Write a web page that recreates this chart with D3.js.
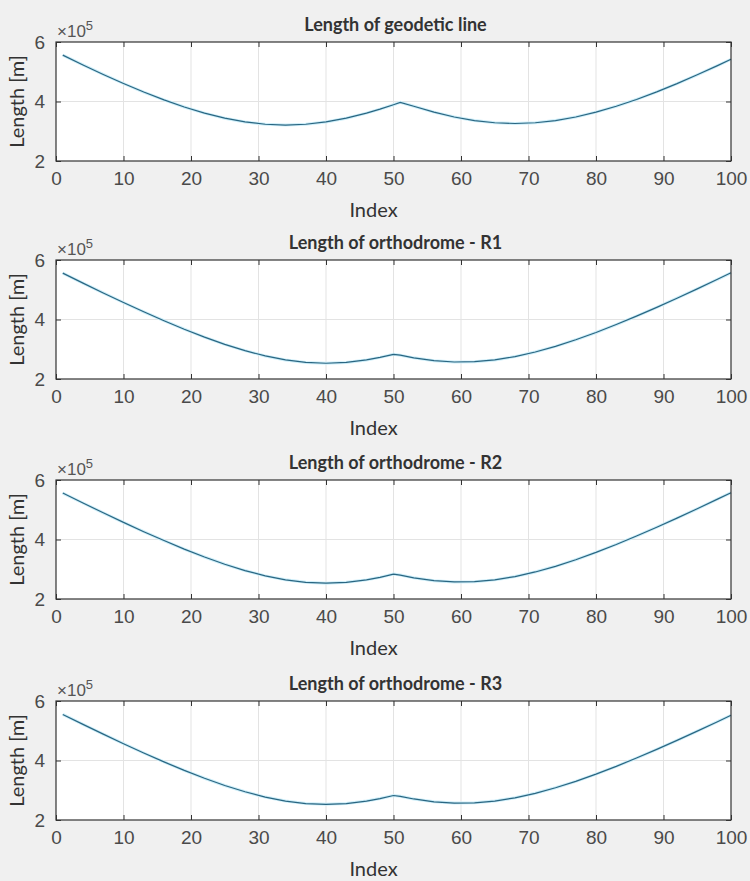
<!DOCTYPE html>
<head>
    <meta charset="utf-8">
    <script src="https://d3js.org/d3.v7.min.js"></script>
</head>
<style>
    body { margin: 0; background: #f0f0f0; }
    .tick text { font-family: "Liberation Sans", Arial, sans-serif; font-size: 19px; fill: #4a4a4a; }
    .lbl { font-family: Lato, "Open Sans", sans-serif; fill: #333; }
</style>
<body>
    <div id="chart"></div>
</body>

<script>
    // sample index (x) and lengths in metres
    const idx = [1,4,7,10,13,16,19,22,25,28,31,34,37,40,43,46,48,50,51,53,56,59,62,65,68,71,74,77,80,83,86,89,92,95,98,100];

    const geodetic = [556000,522900,490900,460500,431800,405400,381600,360900,344000,331400,323600,320900,
        323600,331400,344000,360900,374300,389200,397100,384100,364300,348000,336000,328500,326000,328500,
        336000,348000,364300,384100,406900,432500,460200,489700,520700,542000];

    const orthoR1 = [555900,522300,489300,457200,425900,396000,367400,340900,316600,295300,277500,264200,
        255800,253000,255800,264200,272600,283000,280000,271100,261500,257200,258100,264200,275300,290700,
        309700,331800,356400,383000,411300,440800,471500,502900,535200,557000];

    const orthoR2 = [556200,522600,489800,457700,426300,396400,367800,341200,316900,295600,277800,264400,
        256000,253200,256000,264300,272800,283600,280400,271300,261600,257300,258200,264300,275400,290900,
        309900,332000,356700,383300,411700,441200,471900,503300,535600,557400];

    const orthoR3 = [554800,521400,488600,456500,425200,395300,366800,340300,316000,294800,277000,263700,
        255300,252600,255300,263600,272000,282400,279500,270700,261100,256800,257600,263600,274500,289700,
        308400,330000,354300,380400,408300,437400,467700,498700,530500,552000];

    const titles = ["Length of geodetic line", "Length of orthodrome - R1",
                    "Length of orthodrome - R2", "Length of orthodrome - R3"];
    const series = [geodetic, orthoR1, orthoR2, orthoR3];

    const xTicks = [0,10,20,30,40,50,60,70,80,90,100];
    const yTicks = [200000, 400000, 600000];

    const W = 750, H = 881;
    const left = 56, right = 731;
    const tops = [42, 260, 480, 701];
    const ph = 119;

    const svg = d3.select("#chart")
        .append("svg")
        .attr("width", W)
        .attr("height", H);

    const x = d3.scaleLinear().domain([0, 100]).range([left, right]);

    series.forEach((vals, i) => {
        const top = tops[i], bottom = top + ph;
        const y = d3.scaleLinear().domain([200000, 600000]).range([bottom, top]);
        const g = svg.append("g");

        // plot area
        g.append("rect")
            .attr("x", left).attr("y", top)
            .attr("width", right - left).attr("height", ph)
            .attr("fill", "white");

        // grid
        g.selectAll(".gx").data(xTicks.slice(1, -1)).join("line")
            .attr("x1", d => x(d)).attr("x2", d => x(d))
            .attr("y1", top).attr("y2", bottom)
            .attr("stroke", "#e3e3e3");
        g.selectAll(".gy").data(yTicks.slice(1, -1)).join("line")
            .attr("x1", left).attr("x2", right)
            .attr("y1", d => y(d)).attr("y2", d => y(d))
            .attr("stroke", "#e3e3e3");

        // line
        const line = d3.line().x((d, j) => x(idx[j])).y(d => y(d));
        g.append("path").datum(vals)
            .attr("d", line).attr("fill", "none")
            .attr("stroke", "#cdeef9").attr("stroke-width", 3);
        g.append("path").datum(vals)
            .attr("d", line).attr("fill", "none")
            .attr("stroke", "#2a6682").attr("stroke-width", 1.2);

        // axes (MATLAB-like inward ticks)
        const fmt = d => d / 100000;
        g.append("g").attr("transform", `translate(0,${bottom})`)
            .call(d3.axisBottom(x).tickValues(xTicks).tickSizeInner(-5).tickSizeOuter(0).tickPadding(11))
            .call(a => a.select(".domain").remove());
        g.append("g").attr("transform", `translate(0,${top})`)
            .call(d3.axisTop(x).tickValues(xTicks).tickSizeInner(-5).tickSizeOuter(0).tickFormat(""))
            .call(a => a.select(".domain").remove());
        g.append("g").attr("transform", `translate(${left},0)`)
            .call(d3.axisLeft(y).tickValues(yTicks).tickFormat(fmt).tickSizeInner(-5).tickSizeOuter(0).tickPadding(11))
            .call(a => a.select(".domain").remove());
        g.append("g").attr("transform", `translate(${right},0)`)
            .call(d3.axisRight(y).tickValues(yTicks).tickFormat("").tickSizeInner(-5).tickSizeOuter(0))
            .call(a => a.select(".domain").remove());
        g.selectAll(".tick line").attr("stroke", "#333");

        // box
        g.append("rect")
            .attr("x", left).attr("y", top)
            .attr("width", right - left).attr("height", ph)
            .attr("fill", "none").attr("stroke", "#333").attr("stroke-width", 1.2);

        // exponent
        const ex = g.append("text")
            .attr("x", left + 1).attr("y", top - 5)
            .style("font-family", "'Liberation Sans', Arial, sans-serif")
            .style("font-size", "17px").style("fill", "#555");
        ex.append("tspan").text("\u00d710");
        ex.append("tspan").attr("dy", -7).style("font-size", "13px").text("5");

        // title
        g.append("text").attr("class", "lbl")
            .attr("x", (left + right) / 2 + 2).attr("y", top - 11)
            .attr("text-anchor", "middle")
            .style("font-weight", "bold").style("font-size", "18px")
            .text(titles[i]);

        // x label
        g.append("text").attr("class", "lbl")
            .attr("x", (left + right) / 2 - 20).attr("y", bottom + 56)
            .attr("text-anchor", "middle")
            .style("font-size", "20px")
            .text("Index");

        // y label
        g.append("text").attr("class", "lbl")
            .attr("transform", `translate(24,${(top + bottom) / 2}) rotate(-90)`)
            .attr("text-anchor", "middle")
            .style("font-size", "20px")
            .text("Length [m]");
    });
</script>
